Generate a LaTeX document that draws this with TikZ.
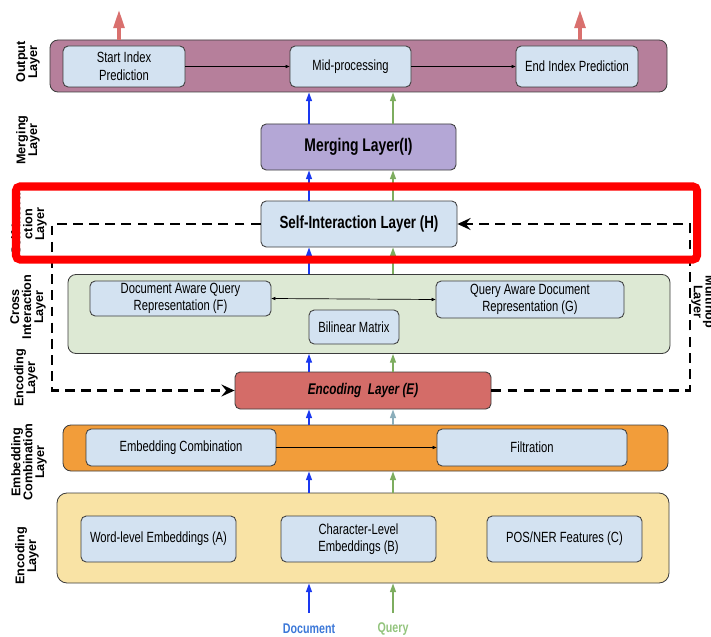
\documentclass[tikz,border=0pt]{standalone}
\usepackage{fontspec}
\setmainfont{Liberation Sans}[FakeStretch=0.76]
\newfontfamily\sidefont{Liberation Sans}
\usepackage{xcolor}
\usetikzlibrary{arrows.meta}
\definecolor{boxblue}{RGB}{211, 226, 241}
\definecolor{outmauve}{RGB}{182, 127, 155}
\definecolor{mergepurple}{RGB}{180, 167, 214}
\definecolor{crossgreen}{RGB}{221, 233, 212}
\definecolor{encred}{RGB}{212, 108, 104}
\definecolor{comborange}{RGB}{242, 157, 58}
\definecolor{embyellow}{RGB}{249, 227, 165}
\definecolor{arrred}{RGB}{217, 112, 110}
\definecolor{docblue}{RGB}{26, 56, 240}
\definecolor{qgreen}{RGB}{125, 173, 95}
\definecolor{greyblue}{RGB}{139, 174, 187}
\definecolor{doctext}{RGB}{60, 120, 216}
\definecolor{qtext}{RGB}{147, 196, 125}
\definecolor{edgegray}{RGB}{60, 60, 60}

\begin{document}
\begin{tikzpicture}[x=0.025cm, y=-0.025cm,
  sz/.style 2 args={minimum width=#1*0.025cm, minimum height=#2*0.025cm},
  layer/.style={draw=edgegray, line width=0.6pt, rounded corners=0.2cm, inner sep=0pt},
  block/.style={draw=edgegray, line width=0.6pt, fill=boxblue, rounded corners=0.13cm,
    inner sep=0pt, align=center, font=\fontsize{10.5}{12.5}\selectfont},
  sidelbl/.style={rotate=90, align=center, font=\sidefont\bfseries\fontsize{9}{8.5}\selectfont},
  upb/.style={docblue, line width=1pt, -{Triangle[length=0.22cm, width=0.15cm]}},
  upg/.style={qgreen, line width=1pt, -{Triangle[length=0.22cm, width=0.15cm]}},
  outarr/.style={arrred, line width=2.3pt, -{Triangle[length=0.45cm, width=0.27cm]}},
  thin/.style={black, line width=0.5pt, -{Triangle[length=0.1cm, width=0.08cm]}},
  hop/.style={black, line width=1.8pt, dash pattern=on 7pt off 4.5pt,
    -{Stealth[length=0.33cm, width=0.3cm, inset=0.12cm]}}]

  \useasboundingbox (0,0) rectangle (711,637);

  % layer containers
  \node[layer, fill=outmauve, sz={617}{52}] (outp) at (358.5,66) {};
  \node[layer, fill=crossgreen, sz={602}{79}] (cross) at (369,314) {};
  \node[layer, fill=comborange, sz={605}{46}] (embc) at (365.5,448) {};
  \node[layer, fill=embyellow, rounded corners=0.25cm, sz={612}{90}] (bot) at (363,538) {};

  % blocks
  \node[block, sz={122}{41}] (sip) at (124,66.5) {Start Index\\Prediction};
  \node[block, sz={121}{41}] (mid) at (350.5,66.5) {Mid-processing};
  \node[block, sz={122}{41}] (eip) at (577,66.5) {End Index Prediction};
  \node[block, fill=mergepurple, sz={195}{46}, font=\bfseries\fontsize{13}{15}\selectfont] (merg) at (358.5,147) {Merging Layer(I)};
  \node[block, sz={196}{46}, font=\bfseries\fontsize{12.5}{14}\selectfont] (self) at (359,224) {Self-Interaction Layer (H)};
  \node[block, sz={181}{35}] (dq) at (180.5,298.5) {Document Aware Query\\Representation (F)};
  \node[block, sz={188}{37}] (qd) at (530,299.5) {Query Aware Document\\Representation (G)};
  \node[block, sz={90}{34}] (bil) at (354,327) {Bilinear Matrix};
  \node[block, fill=encred, sz={256}{37}, font=\bfseries\itshape\fontsize{11}{13}\selectfont] (encE) at (363,390.5) {Encoding~~Layer (E)};
  \node[block, sz={190}{37}] (ecomb) at (181,447.5) {Embedding Combination};
  \node[block, sz={190}{37}] (filt) at (532,447.5) {Filtration};
  \node[block, sz={155}{46}] (wemb) at (158.5,539) {Word-level Embeddings (A)};
  \node[block, sz={155}{46}] (cemb) at (358.5,539) {Character-Level\\Embeddings (B)};
  \node[block, sz={155}{46}] (pos) at (564.5,539) {POS/NER Features (C)};

  % side labels
  \node[sidelbl] (lout) at (28,62) {Output\\Layer};
  \node[sidelbl] (lmerg) at (28,140) {Merging\\Layer};
  \node[sidelbl] (lself) at (29,224) {Self-Intera\\ction\\Layer};
  \node[sidelbl] (lcross) at (28,307) {Cross\\Interaction\\Layer};
  \node[sidelbl] (lenc) at (26,378) {Encoding\\Layer};
  \node[sidelbl] (lcomb) at (29,462) {Embedding\\Combination\\Layer};
  \node[sidelbl] (lemb) at (27,556) {Encoding\\Layer};
  \node[sidelbl, rotate=180] (lhop) at (703,302) {Multihop\\Layer};

  % inputs
  \node[font=\bfseries\fontsize{10}{12}\selectfont, doctext] (doc) at (309,629) {Document};
  \node[font=\bfseries\fontsize{10}{12}\selectfont, qtext] (qry) at (393,629) {Query};
  \coordinate (dx) at (309,613);
  \coordinate (qx) at (393,613);
  \coordinate (sx) at (119,10);
  \coordinate (ex) at (580,10);
  \coordinate (ml) at (52,0);
  \coordinate (mr) at (690,0);

  % flow arrows
  \draw[upb] (dx) -- (bot.south -| dx);
  \draw[upg] (qx) -- (bot.south -| qx);
  \foreach \lo/\hi in {bot/embc, encE/cross, cross/self, self/merg, merg/outp}{
    \draw[upb] (\lo.north -| dx) -- (\hi.south -| dx);
    \draw[upg] (\lo.north -| qx) -- (\hi.south -| qx);
  }
  \draw[upb] (embc.north -| dx) -- (encE.south -| dx);
  \draw[upg, greyblue] (embc.north -| qx) -- (encE.south -| qx);
  \draw[outarr] (outp.north -| sx) -- (sx);
  \draw[outarr] (outp.north -| ex) -- (ex);

  \draw[thin] (sip) -- (mid);
  \draw[thin] (mid) -- (eip);
  \draw[thin, {Triangle[length=0.1cm, width=0.08cm]}-{Triangle[length=0.1cm, width=0.08cm]}] (dq.east) -- (qd.west);
  \draw[thin] (ecomb) -- (filt);

  % multihop loop
  \draw[hop] (encE.east) -- (encE.east -| mr) |- (self.east);
  \draw[hop] (self.west) -- (self.west -| ml) |- (encE.west);

  % highlight
  \draw[red, line width=0.2cm, rounded corners=0.1cm] (16,186.5) rectangle (697,259.5);

\end{tikzpicture}
\end{document}
